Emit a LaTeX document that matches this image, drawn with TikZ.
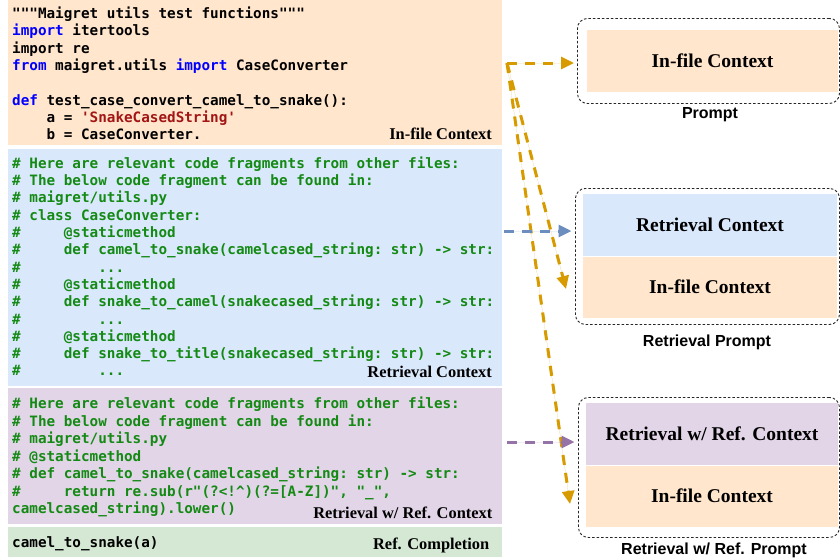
\documentclass[tikz,border=0pt]{standalone}
\usepackage{fontspec}
\setmonofont{DejaVu Sans Mono}
\newfontfamily\labserif{Liberation Serif}
\newfontfamily\labsans{Liberation Sans}
\usetikzlibrary{arrows.meta}
\definecolor{cOrange}{HTML}{FFE6CC}
\definecolor{cBlue}{HTML}{DAE8FC}
\definecolor{cPurple}{HTML}{E1D5E7}
\definecolor{cGreen}{HTML}{D5E8D4}
\definecolor{aOrange}{HTML}{D79B00}
\definecolor{aBlue}{HTML}{6C8EBF}
\definecolor{aPurple}{HTML}{9673A6}
\definecolor{kwBlue}{RGB}{0,0,255}
\definecolor{strRed}{RGB}{163,21,21}
\definecolor{cmGreen}{RGB}{20,138,20}
\newcommand{\kw}[1]{\textcolor{kwBlue}{#1}}
\newcommand{\strq}[1]{\textcolor{strRed}{#1}}
\begin{document}
\begin{tikzpicture}[x=1pt,y=-1pt,
  panel/.style={anchor=north west, inner sep=0pt, outer sep=0pt, draw=none},
  codeline/.style={anchor=base west, inner sep=0pt, font=\ttfamily\bfseries\fontsize{14.3}{17.3}\selectfont},
  cmline/.style={codeline, text=cmGreen},
  panellab/.style={anchor=base east, inner sep=0pt, font=\labserif\bfseries\fontsize{16.4}{18}\selectfont},
  boxlab/.style={font=\labserif\bfseries\fontsize{19.5}{22}\selectfont},
  caplab/.style={inner sep=0pt, font=\labsans\bfseries\fontsize{16}{18}\selectfont},
  dbox/.style={anchor=north west, inner sep=0pt, draw=black!85, line width=0.9pt, dash pattern=on 2.5pt off 2pt, rounded corners=10pt},
  fillbox/.style={anchor=north west, inner sep=0pt, outer sep=0pt},
  flow/.style={line width=3pt, dash pattern=on 10pt off 8pt, -{Triangle[length=13pt,width=12pt]}},
]
\clip (0,0) rectangle (840,558);
\fill[white] (0,0) rectangle (840,558);

% left panels
\node[panel, fill=cOrange, minimum width=494pt, minimum height=145pt] (infile) at (8,0) {};
\node[panel, fill=cBlue, minimum width=494pt, minimum height=237pt] (retr) at (8,148.5) {};
\node[panel, fill=cPurple, minimum width=494pt, minimum height=135.5pt] (refctx) at (8,388) {};
\node[panel, fill=cGreen, minimum width=494pt, minimum height=30pt] (refcomp) at (8,527) {};

% in-file code
\node[codeline] (i1) at (12,18.5) {"""Maigret utils test functions"""};
\node[codeline] (i2) at (12,35.8) {\kw{import} itertools};
\node[codeline] (i3) at (12,53.1) {import re};
\node[codeline] (i4) at (12,70.4) {\kw{from} maigret.utils \kw{import} CaseConverter};
\node[codeline] (i6) at (12,105.0) {\kw{def} test\_case\_convert\_camel\_to\_snake():};
\node[codeline] (i7) at (12,122.3) {\ \ \ \ a = \strq{'SnakeCasedString'}};
\node[codeline] (i8) at (12,139.6) {\ \ \ \ b = CaseConverter.};
\node[panellab] (infilelab) at (492,139.6) {In-file Context};

% retrieval code
\node[cmline] (r1) at (12,168.3) {\# Here are relevant code fragments from other files:};
\node[cmline] (r2) at (12,185.6) {\# The below code fragment can be found in:};
\node[cmline] (r3) at (12,202.9) {\# maigret/utils.py};
\node[cmline] (r4) at (12,220.2) {\# class CaseConverter:};
\node[cmline] (r5) at (12,237.5) {\#\ \ \ \ \ @staticmethod};
\node[cmline] (r6) at (12,254.8) {\#\ \ \ \ \ def camel\_to\_snake(camelcased\_string: str) -> str:};
\node[cmline] (r7) at (12,272.1) {\#\ \ \ \ \ \ \ \ \ ...};
\node[cmline] (r8) at (12,289.4) {\#\ \ \ \ \ @staticmethod};
\node[cmline] (r9) at (12,306.7) {\#\ \ \ \ \ def snake\_to\_camel(snakecased\_string: str) -> str:};
\node[cmline] (r10) at (12,324.0) {\#\ \ \ \ \ \ \ \ \ ...};
\node[cmline] (r11) at (12,341.3) {\#\ \ \ \ \ @staticmethod};
\node[cmline] (r12) at (12,358.6) {\#\ \ \ \ \ def snake\_to\_title(snakecased\_string: str) -> str:};
\node[cmline] (r13) at (12,375.9) {\#\ \ \ \ \ \ \ \ \ ...};
\node[panellab] (retrlab) at (492,377.5) {Retrieval Context};

% retrieval w/ ref code
\node[cmline] (p1) at (12,408.5) {\# Here are relevant code fragments from other files:};
\node[cmline] (p2) at (12,426.0) {\# The below code fragment can be found in:};
\node[cmline] (p3) at (12,443.5) {\# maigret/utils.py};
\node[cmline] (p4) at (12,461.0) {\# @staticmethod};
\node[cmline] (p5) at (12,478.5) {\# def camel\_to\_snake(camelcased\_string: str) -> str:};
\node[cmline] (p6) at (12,496.0) {\#\ \ \ \ \ return re.sub(r"(?<!\textasciicircum)(?=[A-Z])", "\_",};
\node[cmline] (p7) at (12,513.5) {camelcased\_string).lower()};
\node[panellab] (refctxlab) at (492.5,518.5) {Retrieval w/ Ref. Context};

% ref completion
\node[codeline] (c1) at (12,547.0) {camel\_to\_snake(a)};
\node[panellab] (refcomplab) at (489.5,549.5) {Ref. Completion};

% right: prompt
\node[dbox, minimum width=262pt, minimum height=85pt] (prompt) at (577,18) {};
\node[fillbox, fill=cOrange, minimum width=251pt, minimum height=62pt] (pin) at (587,30) {};
\node[boxlab] (pinlab) at (pin.center) {In-file Context};
\node[caplab] (promptlab) at (710,115) {Prompt};

% right: retrieval prompt
\node[dbox, minimum width=264pt, minimum height=136pt] (rprompt) at (575,188) {};
\node[fillbox, fill=cBlue, minimum width=254pt, minimum height=62pt] (rr) at (583,194) {};
\node[fillbox, fill=cOrange, minimum width=254pt, minimum height=61pt] (ri) at (583,256.5) {};
\node[boxlab] (rrlab) at (rr.center) {Retrieval Context};
\node[boxlab] (rilab) at (ri.center) {In-file Context};
\node[caplab] (rpromptlab) at (707,342) {Retrieval Prompt};

% right: retrieval w/ ref prompt
\node[dbox, minimum width=261pt, minimum height=140pt] (fprompt) at (578,397) {};
\node[fillbox, fill=cPurple, minimum width=252pt, minimum height=62pt] (ff) at (586,403) {};
\node[fillbox, fill=cOrange, minimum width=252pt, minimum height=61pt] (fi) at (586,465.5) {};
\node[boxlab] (fflab) at (ff.center) {Retrieval w/ Ref. Context};
\node[boxlab] (filab) at (fi.center) {In-file Context};
\node[caplab] (fpromptlab) at (714,550) {Retrieval w/ Ref. Prompt};

% connector end points
\coordinate (src) at (507,63);
\coordinate (srcB) at (504,231);
\coordinate (srcP) at (507,442);
\coordinate (t1) at (574,63);
\coordinate (t2) at (566,289);
\coordinate (t3) at (570,504);
\coordinate (tB) at (571.5,231);
\coordinate (tP) at (574.5,442);

\draw[flow, draw=aOrange, fill=aOrange] (src) -- (t1);
\draw[flow, draw=aOrange, fill=aOrange] (src) -- (t2);
\draw[flow, draw=aOrange, fill=aOrange] (src) -- (t3);
\draw[flow, draw=aBlue, fill=aBlue] (srcB) -- (tB);
\draw[flow, draw=aPurple, fill=aPurple] (srcP) -- (tP);
\end{tikzpicture}
\end{document}
